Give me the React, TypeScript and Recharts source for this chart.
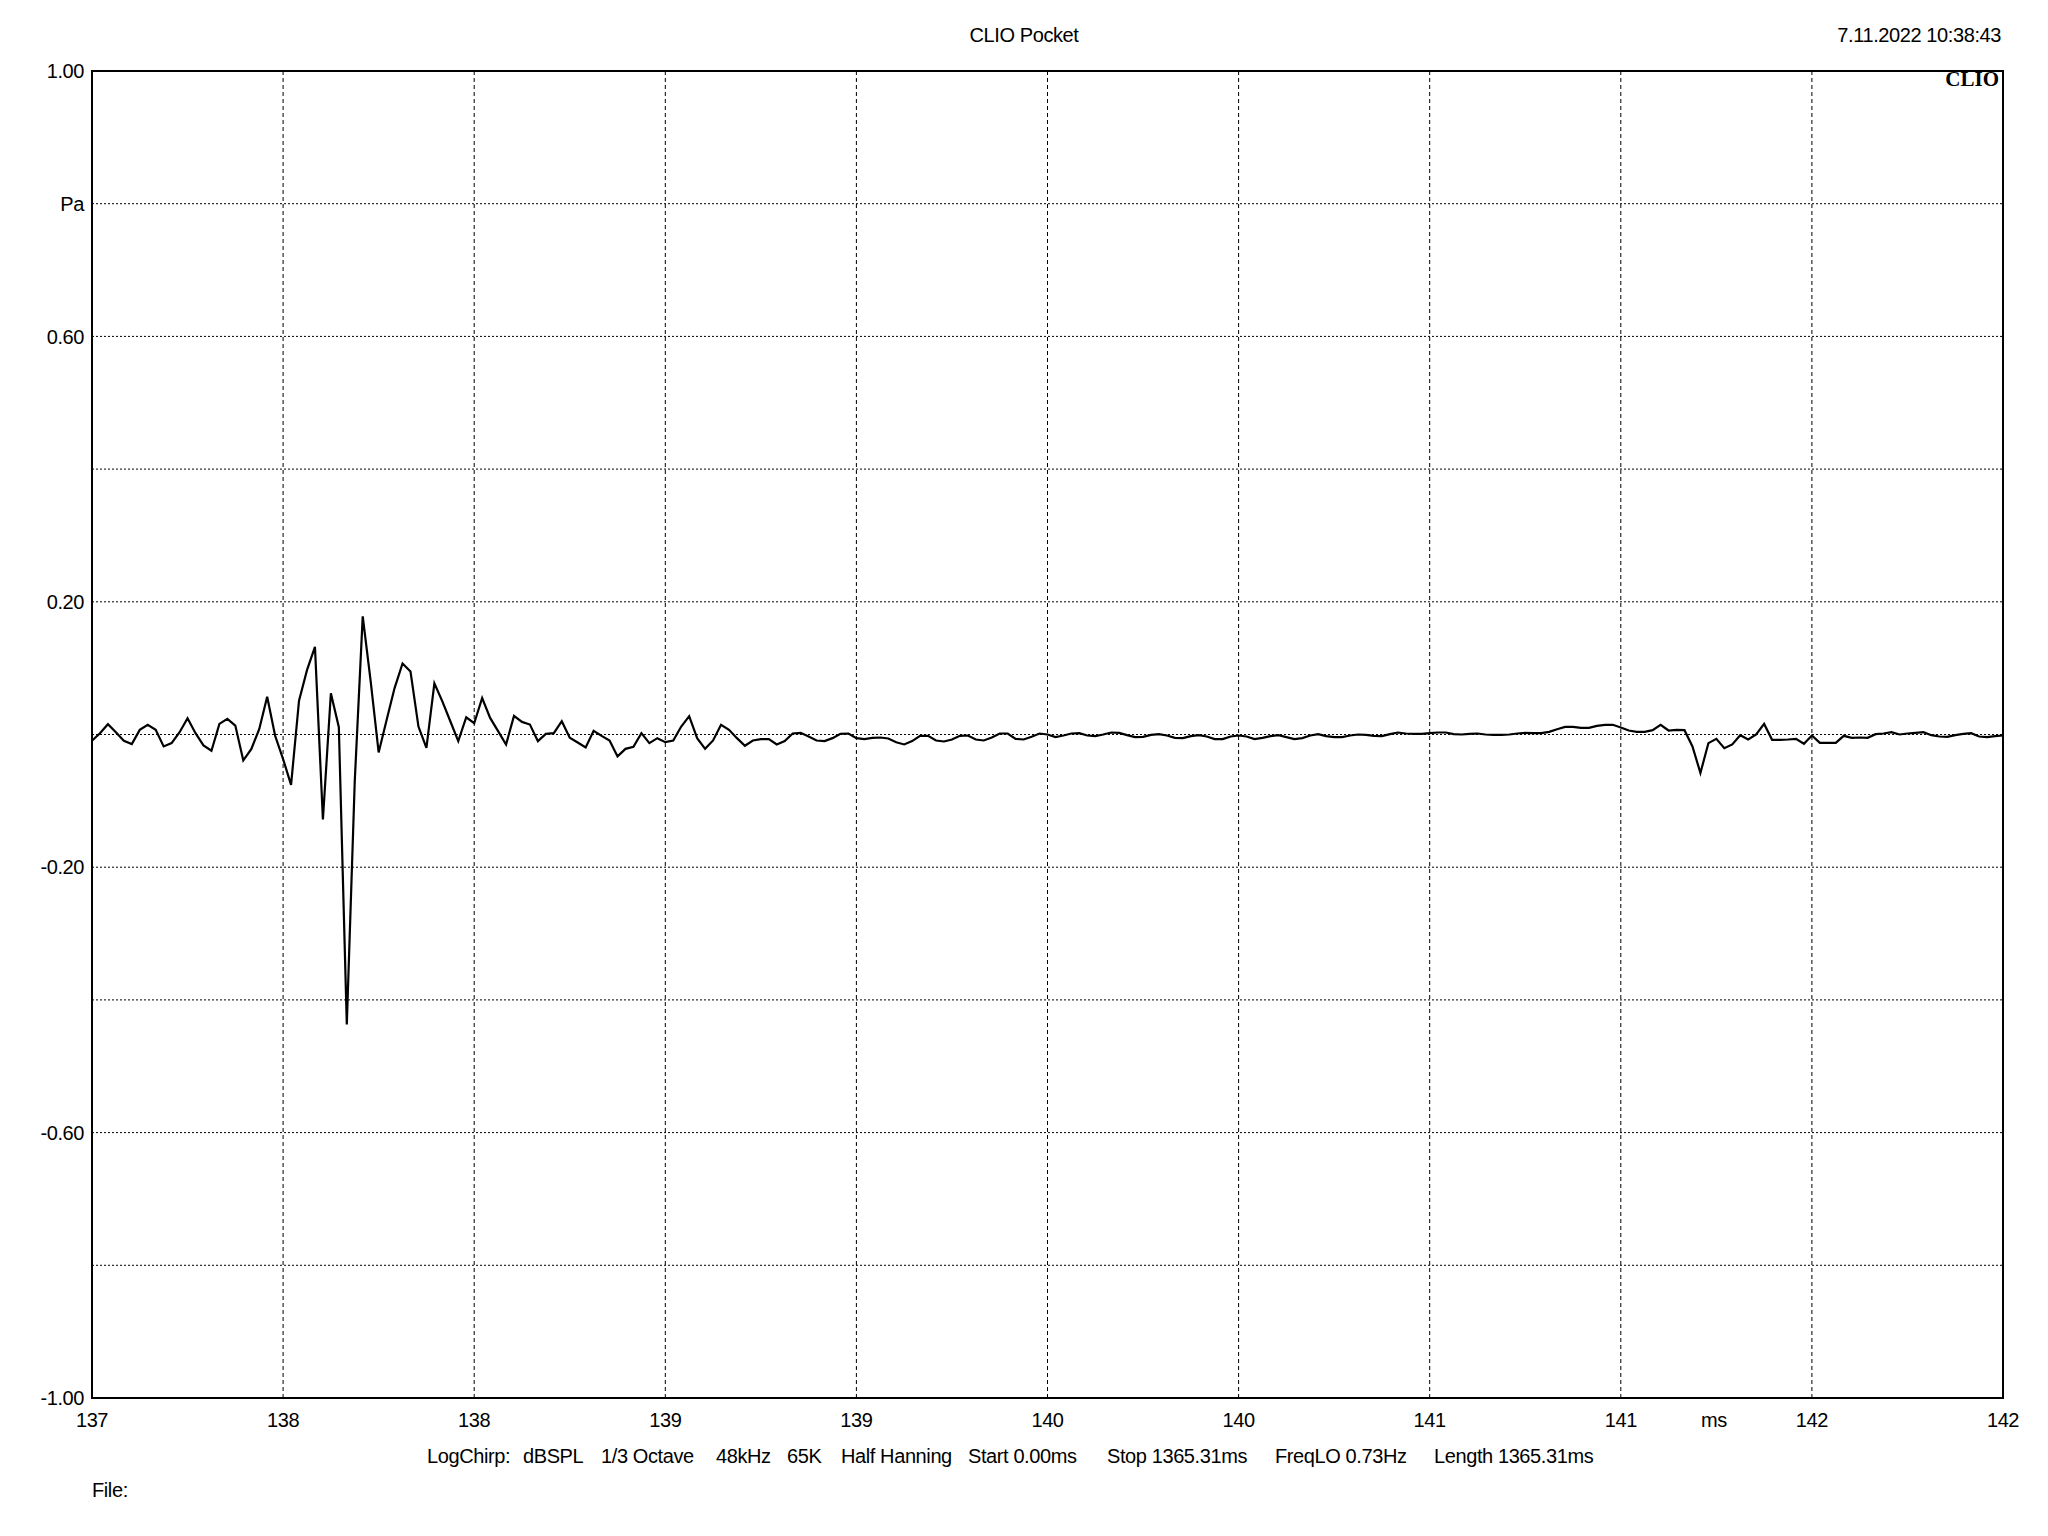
import React from "react";
import {
  LineChart,
  Line,
  XAxis,
  YAxis,
  CartesianGrid,
  ReferenceArea,
} from "recharts";

// impulse response, 48 kHz samples starting at 137.4 ms
const sampleRateKHz = 48;
const startMs = 137.4;

const pressurePa = [
  -0.0095, 0.002, 0.0155, 0.0035, -0.0095, -0.0145, 0.007, 0.0145, 0.007, -0.018,
  -0.013, 0.0035, 0.0245, 0.002, -0.0165, -0.0245, 0.016, 0.0235, 0.0135, -0.039,
  -0.022, 0.008, 0.057, -0.002, -0.037, -0.076, 0.051, 0.097, 0.132, -0.128,
  0.062, 0.011, -0.437, -0.07, 0.178, 0.08, -0.027, 0.022, 0.07, 0.107,
  0.095, 0.012, -0.02, 0.077, 0.05, 0.02, -0.01, 0.026, 0.017, 0.055,
  0.025, 0.005, -0.015, 0.028, 0.019, 0.015, -0.01, 0.001, 0.002, 0.02,
  -0.005, -0.012, -0.0196, 0.0055, -0.002, -0.009, -0.033, -0.0216, -0.0186, 0.002,
  -0.013, -0.0055, -0.0116, -0.009, 0.012, 0.0276, -0.0055, -0.0216, -0.009, 0.0146,
  0.007, -0.0055, -0.017, -0.009, -0.007, -0.007, -0.015, -0.01, 0.0015, 0.0025,
  -0.003, -0.009, -0.01, -0.0055, 0.001, 0.0015, -0.0055, -0.007, -0.005, -0.0045,
  -0.006, -0.0116, -0.015, -0.01, -0.002, -0.002, -0.009, -0.0105, -0.0075, -0.002,
  -0.0015, -0.0075, -0.009, -0.0045, 0.0015, 0.0015, -0.0065, -0.0075, -0.0035, 0.0015,
  0, -0.004, -0.0015, 0.0015, 0.002, -0.0015, -0.0025, 0, 0.003, 0.0025,
  -0.001, -0.004, -0.0035, -0.0005, 0.0005, -0.0015, -0.005, -0.0055, -0.0025, -0.001,
  -0.003, -0.007, -0.007, -0.003, -0.0015, -0.003, -0.007, -0.005, -0.0025, -0.001,
  -0.004, -0.007, -0.0055, -0.0015, 0.0005, -0.0025, -0.004, -0.004, -0.0015, 0,
  -0.0005, -0.002, -0.0025, 0.0005, 0.003, 0.0015, 0.001, 0.001, 0.002, 0.003,
  0.003, 0.0005, 0, 0.001, 0.0015, 0, -0.0005, -0.0005, 0, 0.0015,
  0.0025, 0.002, 0.002, 0.004, 0.008, 0.0115, 0.0115, 0.01, 0.01, 0.013,
  0.0146, 0.0146, 0.0105, 0.006, 0.004, 0.004, 0.0065, 0.0146, 0.006, 0.007,
  0.0065, -0.018, -0.058, -0.013, -0.0065, -0.0206, -0.015, -0.001, -0.0075, 0,
  0.016, -0.008, -0.008, -0.0075, -0.0065, -0.014, -0.0015, -0.0125, -0.0125, -0.0125,
  -0.002, -0.005, -0.0045, -0.005, 0.0005, 0.0015, 0.0035, 0, 0.0015, 0.0025,
  0.0035, -0.001, -0.003, -0.0035, -0.001, 0.001, 0.002, -0.003, -0.004, -0.0025,
  -0.0015,
];

const xTicks = [137.4, 137.9, 138.4, 138.9, 139.4, 139.9, 140.4, 140.9, 141.4, 141.9, 142.4];
const xTickLabels = ["137", "138", "138", "139", "139", "140", "140", "141", "141", "142", "142"];

const yTicks = [-1, -0.8, -0.6, -0.4, -0.2, 0, 0.2, 0.4, 0.6, 0.8, 1];
const yTickLabels = ["-1.00", "", "-0.60", "", "-0.20", "", "0.20", "", "0.60", "Pa", "1.00"];

const infoItems = [
  "LogChirp:",
  "dBSPL",
  "1/3 Octave",
  "48kHz",
  "65K",
  "Half Hanning",
  "Start 0.00ms",
  "Stop 1365.31ms",
  "FreqLO 0.73Hz",
  "Length 1365.31ms",
];

// layout only
const infoLeft = [427, 523, 601, 716, 787, 841, 968, 1107, 1275, 1434];

const data = pressurePa.map((p, i) => ({ t: startMs + i / sampleRateKHz, p }));

const FONT = '"Liberation Sans", Arial, sans-serif';

const txt = (extra: React.CSSProperties): React.CSSProperties => ({
  position: "absolute",
  fontFamily: FONT,
  fontSize: 20,
  lineHeight: "20px",
  letterSpacing: "-0.4px",
  color: "#000",
  whiteSpace: "pre",
  ...extra,
});

export default function App() {
  return (
    <div
      style={{
        position: "absolute",
        left: 0,
        top: 0,
        width: 2048,
        height: 1536,
        background: "#fff",
        overflow: "hidden",
      }}
    >
      <LineChart
        width={2048}
        height={1536}
        data={data}
        margin={{ top: 71, right: 45, bottom: 98, left: 0 }}
      >
        <CartesianGrid
          horizontal={true}
          vertical={false}
          stroke="#000"
          strokeWidth={1}
          strokeDasharray="2 2"
        />
        <CartesianGrid
          horizontal={false}
          vertical={true}
          stroke="#000"
          strokeWidth={1}
          strokeDasharray="4 3"
        />
        <XAxis
          dataKey="t"
          type="number"
          domain={[137.4, 142.4]}
          ticks={xTicks}
          interval={0}
          allowDataOverflow
          height={40}
          axisLine={false}
          tickLine={false}
          tickSize={0}
          tickMargin={15}
          tickFormatter={(_v: number, i: number) => xTickLabels[i]}
          tick={{ fill: "#000", fontSize: 20, fontFamily: FONT, letterSpacing: "-0.4px" }}
        />
        <YAxis
          type="number"
          domain={[-1, 1]}
          ticks={yTicks}
          interval={0}
          allowDataOverflow
          width={92}
          axisLine={false}
          tickLine={false}
          tickSize={0}
          tickMargin={8}
          tickFormatter={(_v: number, i: number) => yTickLabels[i]}
          tick={{ fill: "#000", fontSize: 20, fontFamily: FONT, letterSpacing: "-0.4px" }}
        />
        <Line
          type="linear"
          dataKey="p"
          stroke="#000"
          strokeWidth={2.2}
          dot={false}
          isAnimationActive={false}
        />
        <ReferenceArea
          x1={137.4}
          x2={142.4}
          y1={-1}
          y2={1}
          fill="none"
          fillOpacity={0}
          stroke="#000"
          strokeWidth={2}
        />
      </LineChart>

      <div style={txt({ left: 0, width: 2048, top: 25, textAlign: "center" })}>CLIO Pocket</div>
      <div style={txt({ right: 47, top: 25, textAlign: "right" })}>7.11.2022 10:38:43</div>
      <div
        style={{
          position: "absolute",
          right: 49,
          top: 69,
          fontFamily: '"Liberation Serif", "Times New Roman", serif',
          fontWeight: "bold",
          fontSize: 21,
          lineHeight: "21px",
          color: "#000",
        }}
      >
        CLIO
      </div>
      <div style={txt({ left: 1701, top: 1410 })}>ms</div>
      {infoItems.map((s, i) => (
        <div key={s} style={txt({ left: infoLeft[i], top: 1446 })}>
          {s}
        </div>
      ))}
      <div style={txt({ left: 92, top: 1480 })}>File:</div>
    </div>
  );
}
